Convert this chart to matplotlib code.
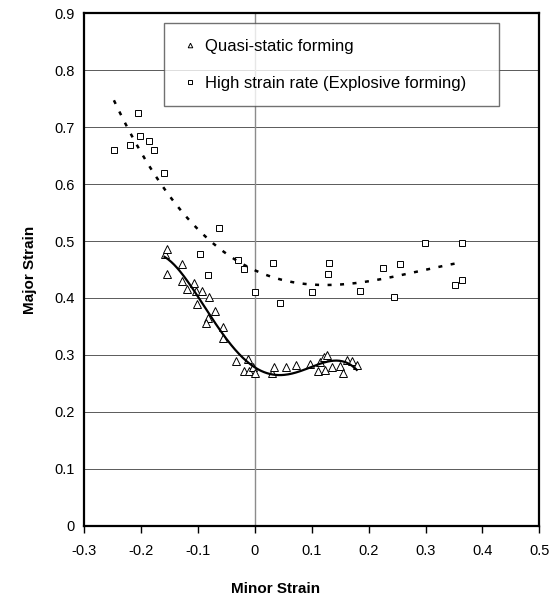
import numpy as np
import matplotlib
matplotlib.use("Agg")
import matplotlib.pyplot as plt

plt.rcParams["font.family"] = ["Liberation Sans", "DejaVu Sans"]

# ---------- data ----------
quasi_x = [-0.159, -0.154, -0.154, -0.128, -0.128, -0.120, -0.107, -0.104, -0.093,
           -0.080, -0.102, -0.071, -0.082, -0.086, -0.056, -0.056, -0.033, -0.012,
           -0.020, -0.010, -0.004, 0.000, 0.030, 0.034, 0.055, 0.073, 0.097, 0.111,
           0.114, 0.122, 0.126, 0.123, 0.135, 0.150, 0.154, 0.162, 0.170, 0.179]
quasi_y = [0.478, 0.486, 0.443, 0.459, 0.430, 0.416, 0.426, 0.412, 0.413,
           0.401, 0.389, 0.378, 0.364, 0.356, 0.349, 0.329, 0.290, 0.292,
           0.271, 0.271, 0.279, 0.269, 0.269, 0.278, 0.279, 0.282, 0.284, 0.271,
           0.288, 0.297, 0.300, 0.273, 0.278, 0.281, 0.268, 0.291, 0.290, 0.282]

hsr_x = [-0.248, -0.220, -0.205, -0.202, -0.187, -0.177, -0.160, -0.063, -0.096,
         -0.082, -0.030, -0.020, 0.000, 0.031, 0.044, 0.101, 0.128, 0.130, 0.185,
         0.226, 0.245, 0.255, 0.299, 0.351, 0.364, 0.364]
hsr_y = [0.660, 0.669, 0.725, 0.684, 0.675, 0.660, 0.620, 0.523, 0.477,
         0.440, 0.467, 0.451, 0.410, 0.461, 0.391, 0.410, 0.442, 0.461, 0.412,
         0.453, 0.401, 0.459, 0.496, 0.422, 0.432, 0.496]

x_ticks = [-0.3, -0.2, -0.1, 0, 0.1, 0.2, 0.3, 0.4, 0.5]
y_ticks = [0, 0.1, 0.2, 0.3, 0.4, 0.5, 0.6, 0.7, 0.8, 0.9]

# ---------- figure ----------
fig = plt.figure(figsize=(5.53, 6.0), dpi=100)
ax = fig.add_axes([0.1525, 0.1238, 0.8227, 0.854])

for yt in y_ticks[1:-1]:
    ax.axhline(yt, color="0.35", lw=0.7, zorder=0)
ax.axvline(0, color="0.55", lw=1.0, zorder=0)

ax.plot(quasi_x, quasi_y, ls="none", marker="^", ms=5.5, mfc="white",
        mec="black", mew=0.7, label="Quasi-static forming", zorder=3)
ax.plot(hsr_x, hsr_y, ls="none", marker="s", ms=4.8, mfc="white",
        mec="black", mew=0.7, label="High strain rate (Explosive forming)", zorder=3)

# polynomial trendlines, as in the source spreadsheet
qc = np.polyfit(quasi_x, quasi_y, 4)
qx = np.linspace(min(quasi_x), max(quasi_x), 200)
ax.plot(qx, np.polyval(qc, qx), color="black", lw=1.6, zorder=4)

hc = np.polyfit(hsr_x, hsr_y, 3)
hx = np.linspace(min(hsr_x), max(hsr_x), 200)
ax.plot(hx, np.polyval(hc, hx), color="black", lw=1.8, ls=(0, (1.6, 3.4)), zorder=4)

ax.set_xlim(-0.3, 0.5)
ax.set_ylim(0, 0.9)
ax.set_xticks(x_ticks)
ax.set_xticklabels(["-0.3", "-0.2", "-0.1", "0", "0.1", "0.2", "0.3", "0.4", "0.5"])
ax.set_yticks(y_ticks)
ax.set_yticklabels(["0", "0.1", "0.2", "0.3", "0.4", "0.5", "0.6", "0.7", "0.8", "0.9"])
ax.tick_params(axis="x", direction="out", length=5, width=1, labelsize=10.5, pad=8)
ax.tick_params(axis="y", length=0, labelsize=10.5, pad=7)
for sp in ax.spines.values():
    sp.set_linewidth(1.6)
    sp.set_color("black")

ax.set_xlabel("Minor Strain", fontsize=11, fontweight="bold")
ax.xaxis.set_label_coords(0.42, -0.11)
ax.set_ylabel("Major Strain", fontsize=11, fontweight="bold")
ax.yaxis.set_label_coords(-0.105, 0.5)

leg = ax.legend(loc="upper left", bbox_to_anchor=(0.175, 0.0, 0.736, 0.981),
                mode="expand", fontsize=12, frameon=True, fancybox=False,
                borderpad=0.95, labelspacing=1.3, handlelength=1.2,
                handletextpad=0.3, markerscale=0.6, borderaxespad=0)
leg.get_frame().set_edgecolor("0.3")
leg.get_frame().set_linewidth(1.0)

fig.savefig("out.png", dpi=100)
